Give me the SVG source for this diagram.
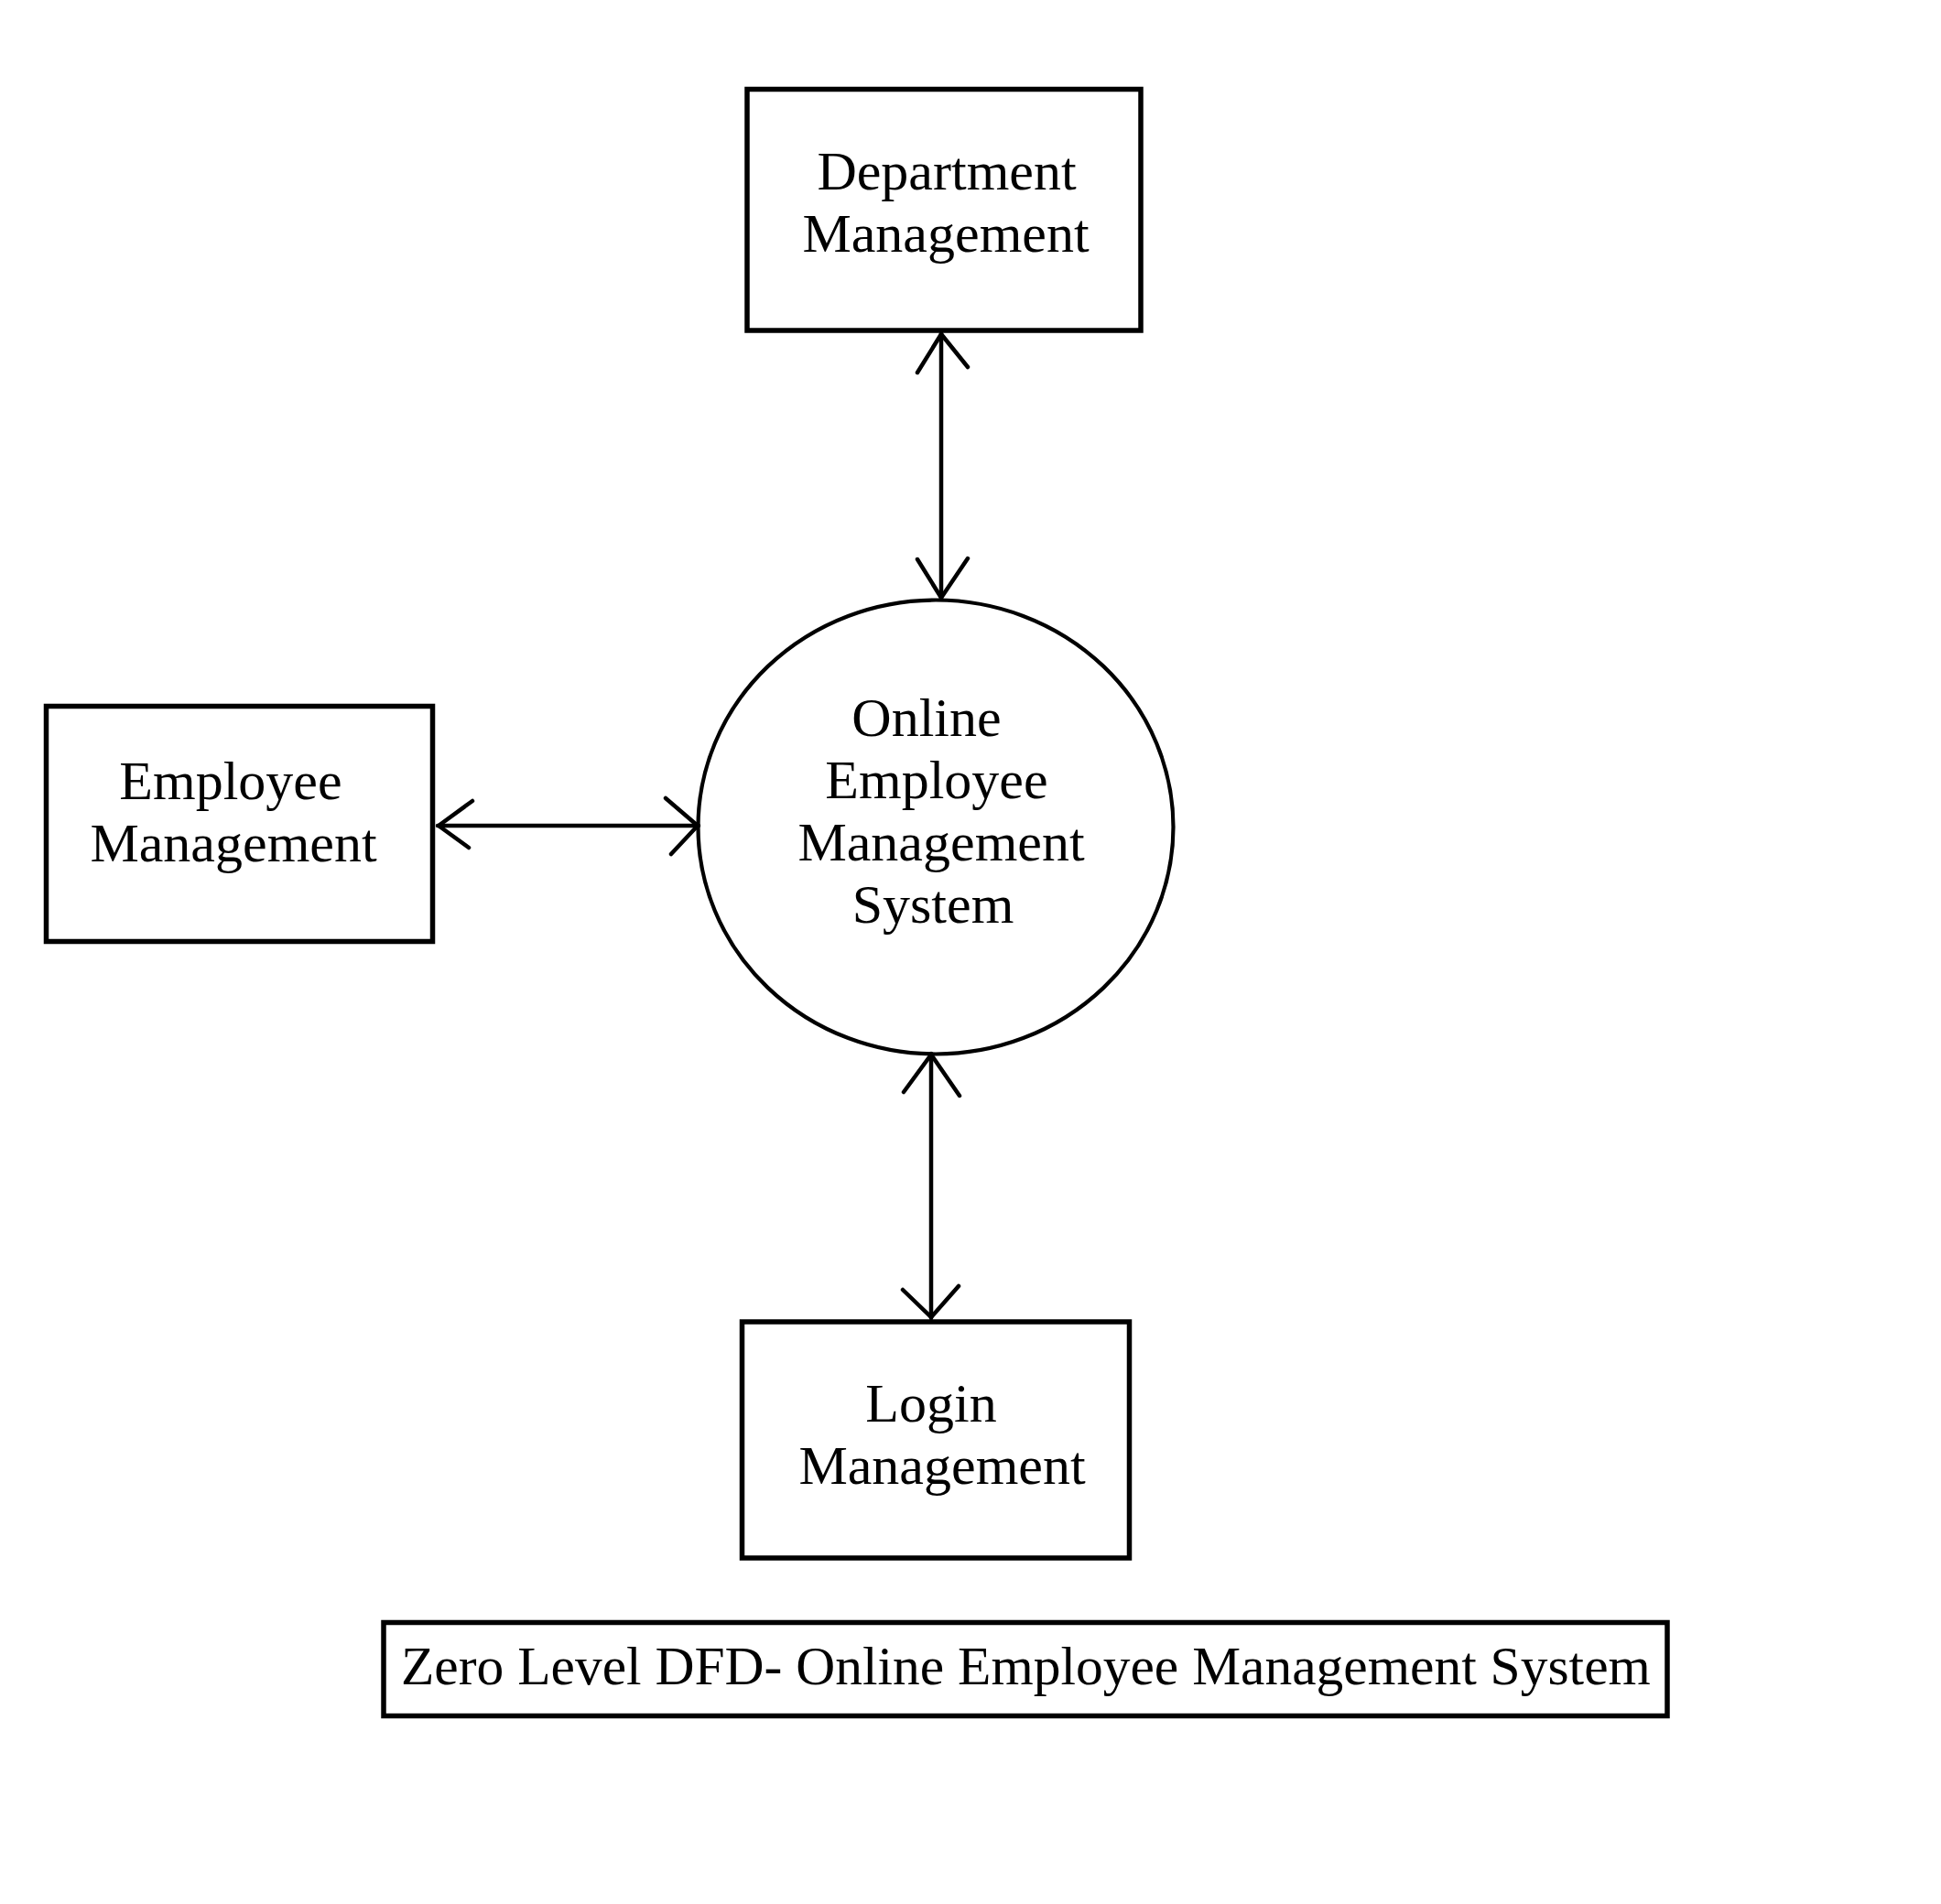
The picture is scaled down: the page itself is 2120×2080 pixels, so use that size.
<svg xmlns="http://www.w3.org/2000/svg" width="2120" height="2080" viewBox="0 0 2120 2080">
<style>
.box{fill:none;stroke:#000;stroke-width:5.5}
.proc{fill:none;stroke:#000;stroke-width:4.2}
.ln{fill:none;stroke:#000;stroke-width:4.5;stroke-linecap:round;stroke-linejoin:round}
text{font-family:"Liberation Serif","Times New Roman",serif;font-size:60px;fill:#000;text-anchor:middle}
</style>
<rect width="2120" height="2080" fill="#fff"/>
<g id="department">
<rect class="box" x="816" y="97.5" width="430" height="263.5"/>
<text x="1034" y="207">Department</text>
<text x="1033" y="275">Management</text>
</g>
<g id="employee">
<rect class="box" x="50.5" y="771.5" width="422" height="257"/>
<text x="252" y="873">Employee</text>
<text x="255" y="941">Management</text>
</g>
<g id="system">
<ellipse class="proc" cx="1022" cy="903.5" rx="259.5" ry="248"/>
<text x="1012" y="804">Online</text>
<text x="1023" y="872">Employee</text>
<text x="1028" y="940">Management</text>
<text x="1019" y="1008">System</text>
</g>
<g id="login">
<rect class="box" x="810.5" y="1444" width="423" height="258"/>
<text x="1017" y="1553">Login</text>
<text x="1029" y="1621">Management</text>
</g>
<g id="title">
<rect class="box" x="419" y="1772.5" width="1402" height="102"/>
<text x="438" y="1840" style="text-anchor:start;font-size:59.5px">Zero Level DFD- Online Employee Management System</text>
</g>
<g id="connectors">
<line class="ln" x1="1028" y1="364" x2="1028" y2="654"/>
<path class="ln" d="M1002,407 L1028,365 L1057,401"/>
<path class="ln" d="M1002,611 L1028,653 L1057,610"/>
<line class="ln" x1="478" y1="902" x2="763" y2="902"/>
<path class="ln" d="M516,875 L479,902 L512,926"/>
<path class="ln" d="M727,872 L762,902 L733,933"/>
<line class="ln" x1="1017" y1="1151" x2="1017" y2="1440"/>
<path class="ln" d="M987,1193 L1017,1152 L1048,1197"/>
<path class="ln" d="M986,1409 L1017,1439 L1047,1405"/>
</g>
</svg>
